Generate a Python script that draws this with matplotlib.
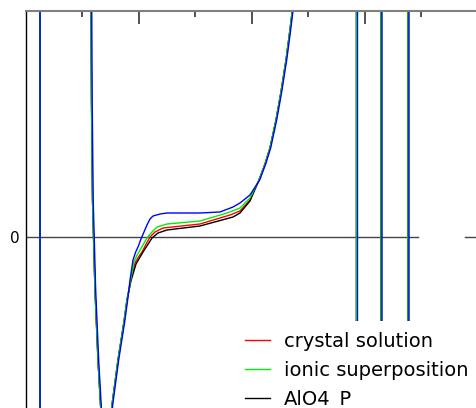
import numpy as np
import matplotlib
matplotlib.use("Agg")
import matplotlib.pyplot as plt

plt.rcParams['font.family'] = ['DejaVu Sans']

# ---- data (x in tick units, y in arbitrary units; 0 = horizontal axis) ----
TOP, BOT = 3.0, -3.0  # values beyond the visible range (poles)

# pole positions
pole_left = 0.257
poles_green = [5.858, 6.292, 6.770]
poles_blue = [5.876, 6.310, 6.788]

# main branch, shared steep parts
x_desc = [1.156, 1.168, 1.186, 1.230, 1.283, 1.328, 1.372, 1.425, 1.478, 1.531, 1.637, 1.743, 1.796]
y_desc = [2.77, 1.37, 0.37, -0.53, -1.23, -1.68, -2.08, -2.18, -2.03, -1.68, -1.23, -0.85, -0.63]

# crossing / plateau region per series
x_blue = [1.850, 1.903, 1.950, 1.991, 2.044, 2.097, 2.150, 2.204, 2.257, 2.381, 2.504, 3.088, 3.442, 3.673, 3.796, 3.973]
y_blue = [-0.43, -0.23, -0.15, -0.10, -0.02, 0.05, 0.12, 0.18, 0.21, 0.23, 0.24, 0.24, 0.25, 0.30, 0.34, 0.42]

x_green = [1.858, 1.920, 1.975, 2.027, 2.090, 2.150, 2.239, 2.327, 2.504, 3.088, 3.566, 3.796, 3.973]
y_green = [-0.44, -0.25, -0.18, -0.13, -0.07, -0.01, 0.05, 0.10, 0.13, 0.16, 0.24, 0.29, 0.39]

x_red = [1.862, 1.938, 2.000, 2.062, 2.135, 2.204, 2.292, 2.434, 3.088, 3.619, 3.796, 3.973]
y_red = [-0.44, -0.26, -0.20, -0.15, -0.07, 0.00, 0.05, 0.09, 0.13, 0.22, 0.26, 0.37]

x_black = [1.866, 1.956, 2.018, 2.080, 2.160, 2.239, 2.345, 2.504, 3.088, 3.673, 3.796, 3.973]
y_black = [-0.44, -0.27, -0.21, -0.15, -0.08, -0.01, 0.04, 0.07, 0.11, 0.20, 0.24, 0.36]

# steep rising part (shared)
x_rise = [4.133, 4.239, 4.327, 4.434, 4.522, 4.611, 4.681, 4.735, 4.788]
y_rise = [0.57, 0.73, 0.89, 1.17, 1.45, 1.77, 2.07, 2.32, 2.57]

labels = ["crystal solution", "ionic superposition", "AlO4_P"]
colors = {"red": "#ff0000", "green": "#00ee00", "black": "#000000", "blue": "#0000ff"}

# ---- figure ----
W, H = 476, 408
fig = plt.figure(figsize=(W / 100, H / 100), dpi=100)
ax_left = 25.5 / W
ax_top = 11 / H
ax = fig.add_axes([ax_left, 0, 1 - ax_left, 1 - ax_top])
ax.set_xlim(0, (W - 25.5) / 56.5)
ax.set_ylim(-1.71, 2.26)


def series(xm, ym, shift=0.0):
    xs = [pole_left, pole_left, np.nan] + [v + shift for v in x_desc] + list(xm) + [v + shift for v in x_rise]
    ys = [TOP, BOT, np.nan] + list(y_desc) + list(ym) + list(y_rise)
    return np.array(xs), np.array(ys)


def add_poles(xs, ys, ps):
    for p in ps:
        xs = np.concatenate([xs, [np.nan, p, p]])
        ys = np.concatenate([ys, [np.nan, TOP, BOT]])
    return xs, ys


lw = 1.0
xr, yr = add_poles(*series(x_red, y_red), poles_green)
xk, yk = add_poles(*series(x_black, y_black), poles_green)
xg, yg = add_poles(*series(x_green, y_green), poles_green)
xb, yb = add_poles(*series(x_blue, y_blue, shift=0.012), poles_blue)

h_red, = ax.plot(xr, yr, color=colors["red"], lw=lw)
h_black, = ax.plot(xk, yk, color=colors["black"], lw=lw)
h_green, = ax.plot(xg, yg, color=colors["green"], lw=lw)
h_blue, = ax.plot(xb, yb, color=colors["blue"], lw=lw)

# zero line (two pieces)
ax.plot([0, 6.947], [0, 0], color="#444444", lw=1.0, zorder=0.5)
ax.plot([7.779, 9], [0, 0], color="#444444", lw=1.0, zorder=0.5)

# spines / ticks
ax.spines['right'].set_visible(False)
ax.spines['bottom'].set_visible(False)
ax.spines['top'].set_color('#808080')
ax.spines['top'].set_linewidth(1.5)
ax.spines['left'].set_color('#000000')
ax.spines['left'].set_linewidth(1.0)

ax.xaxis.set_ticks_position('top')
ax.set_xticks([2, 4, 6])
ax.set_xticks([1, 3, 5, 7], minor=True)
ax.tick_params(axis='x', which='major', direction='in', length=9.5, width=1.2,
               color='#333333', labeltop=False, labelbottom=False)
ax.tick_params(axis='x', which='minor', direction='in', length=4.5, width=1.2,
               color='#333333', labeltop=False, labelbottom=False)
ax.set_yticks([0])
ax.set_yticklabels(["0"])
ax.tick_params(axis='y', length=0, pad=4.5, labelsize=11)

leg = ax.legend([h_red, h_green, h_black], labels,
                loc='upper left', bbox_to_anchor=(234 / W, 1 - 321 / H),
                bbox_transform=fig.transFigure, borderaxespad=0,
                fontsize=14, frameon=True, fancybox=False, framealpha=1,
                handlelength=1.29, handletextpad=0.72, labelspacing=0.51,
                borderpad=0.55)
leg.get_frame().set_edgecolor('none')
leg.get_frame().set_facecolor('white')

fig.savefig("out.png", dpi=100)
